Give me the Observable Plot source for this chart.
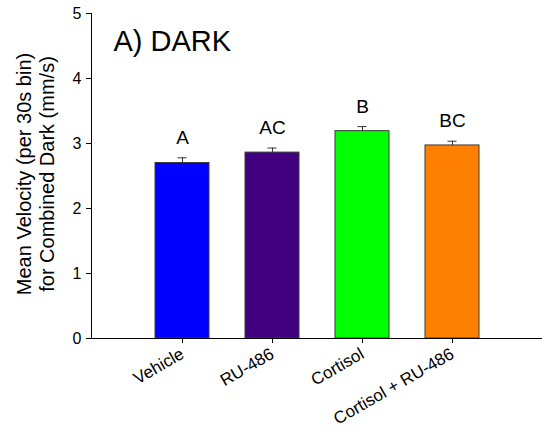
<!DOCTYPE html>
<html>
<head>
<meta charset="utf-8">
<script src="https://cdn.jsdelivr.net/npm/d3@7"></script>
<script src="https://cdn.jsdelivr.net/npm/@observablehq/plot@0.6"></script>
<style>
  html, body { margin: 0; padding: 0; background: #fff; }
  #chart svg { display: block; font-family: "Liberation Sans", Arial, sans-serif; }
</style>
</head>
<body>
<div id="chart"></div>
<script>
const categories = ["Vehicle", "RU-486", "Cortisol", "Cortisol + RU-486"];
const means = [2.70, 2.86, 3.19, 2.97];
const sems = [0.08, 0.07, 0.07, 0.065];
const letters = ["A", "AC", "B", "BC"];
const colors = ["#0000FF", "#40007F", "#00FF00", "#FF8000"];
const yTicks = [0, 1, 2, 3, 4, 5];
const title = "A) DARK";
const yLabel = "Mean Velocity (per 30s bin)\nfor Combined Dark (mm/s)";

const data = categories.map((c, i) => ({
  name: c, mean: means[i], top: means[i] + sems[i], letter: letters[i], color: colors[i]
}));

const chart = Plot.plot({
  width: 542,
  height: 437,
  marginLeft: 91,
  marginRight: 0,
  marginTop: 13,
  marginBottom: 99,
  style: { fontFamily: "Liberation Sans, Arial, sans-serif", color: "#000", background: "#fff" },
  x: { domain: categories, paddingInner: 0.4, paddingOuter: 0.7, label: null },
  y: { domain: [0, 5], label: null },
  marks: [
    Plot.barY(data, { x: "name", y: "mean", fill: "color", stroke: "#3a3a3a", strokeWidth: 1 }),
    Plot.ruleX(data, { x: "name", y1: "mean", y2: "top", stroke: "#333", strokeWidth: 1 }),
    Plot.tickY(data, { x: "name", y: "top", stroke: "#333", strokeWidth: 1, insetLeft: 22.5, insetRight: 22.5 }),
    Plot.text(data, { x: "name", y: "top", text: "letter", dy: -14, lineAnchor: "bottom", fontSize: 19, fill: "#000" }),
    Plot.ruleY([0], { stroke: "#000", strokeWidth: 1 }),
    Plot.frame({ anchor: "left", stroke: "#000", strokeWidth: 1 }),
    Plot.axisY({ ticks: yTicks, tickSize: 5, tickPadding: 5, fontSize: 16, label: null, tickFormat: d => d }),
    Plot.axisX({ tickSize: 5, tickRotate: -30, tickPadding: 9, fontSize: 17, label: null }),
    Plot.text([title], { frameAnchor: "top-left", dx: 22, dy: 17, lineAnchor: "top", fontSize: 29, fill: "#000" }),
    Plot.text([yLabel], { frameAnchor: "left", textAnchor: "middle", dx: -56, dy: -2, rotate: -90, lineAnchor: "middle", lineHeight: 1.15, fontSize: 20, fill: "#000" })
  ]
});
document.getElementById("chart").appendChild(chart);
</script>
</body>
</html>
